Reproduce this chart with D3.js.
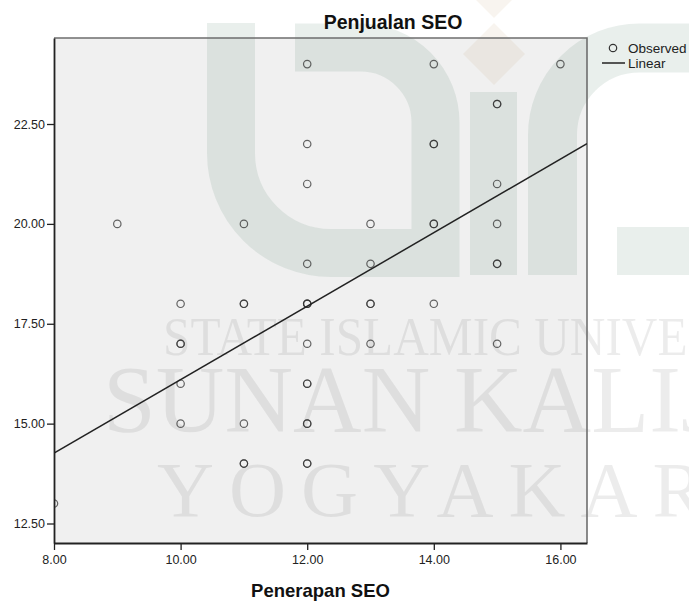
<!DOCTYPE html>
<html>
<head>
<meta charset="utf-8">
<script src="https://cdn.jsdelivr.net/npm/d3@7"></script>
<style>
  html, body { margin: 0; padding: 0; background: #fff; }
  svg { display: block; }
</style>
</head>
<body>
<svg id="chart" width="689" height="601"></svg>
<script>
// Observations: Penerapan SEO (x) against Penjualan SEO (y); repeated pairs are listed once per case
const seoApplied = [
  8,
  9,
  10, 10, 10, 10, 10,
  11, 11, 11, 11, 11, 11,
  12, 12, 12, 12, 12, 12, 12, 12, 12, 12, 12, 12, 12, 12,
  13, 13, 13, 13, 13,
  14, 14, 14, 14, 14, 14,
  15, 15, 15, 15, 15, 15, 15,
  16
];
const seoSales = [
  13,
  20,
  18, 17, 17, 16, 15,
  20, 18, 18, 15, 14, 14,
  24, 22, 21, 19, 18, 18, 18, 17, 16, 16, 15, 15, 14, 14,
  20, 19, 18, 18, 17,
  24, 22, 22, 20, 20, 18,
  23, 23, 21, 20, 19, 19, 17,
  24
];

// Linear fit (Penjualan = a + b * Penerapan)
const fitIntercept = 6.9;
const fitSlope = 0.92;

const xTicks = [8, 10, 12, 14, 16];
const yTicks = [12.5, 15, 17.5, 20, 22.5];
const xDomain = [8, 16.42];
const yDomain = [12.012, 24.653];

const chartTitle = "Penjualan SEO";
const xTitle = "Penerapan SEO";
const legendLabels = ["Observed", "Linear"];
const watermarkLines = ["STATE ISLAMIC UNIVERSITY", "SUNAN KALIJAGA", "YOGYAKARTA"];

// ---------------------------------------------------------------
const svg = d3.select("#chart");
const W = 689, H = 601;
const plot = { left: 54, right: 587, top: 38, bottom: 543 };

const x = d3.scaleLinear().domain(xDomain).range([plot.left, plot.right]);
const y = d3.scaleLinear().domain(yDomain).range([plot.bottom, plot.top]);

const sans = "'Liberation Sans', Arial, Helvetica, sans-serif";
const serif = "'Liberation Serif', 'Times New Roman', serif";

svg.append("rect").attr("width", W).attr("height", H).attr("fill", "#fff");

// Plot background
svg.append("rect")
  .attr("x", plot.left).attr("y", plot.top)
  .attr("width", plot.right - plot.left).attr("height", plot.bottom - plot.top)
  .attr("fill", "#f0f0f0");

// Page watermark (university logo and name), drawn behind the chart marks
const wm = svg.append("g").attr("class", "watermark");
const wmGreen = "#4d7d65", wmGreenOp = 0.12;

const uPath = d3.path();
uPath.moveTo(231, 23);
uPath.lineTo(231, 153);
uPath.arcTo(231, 253, 331, 253, 100);
uPath.lineTo(435.5, 253);
uPath.lineTo(435.5, 122);
uPath.arcTo(435.5, 47.5, 360.5, 47.5, 75);
uPath.lineTo(295, 47.5);
wm.append("path").attr("d", uPath.toString())
  .attr("fill", "none").attr("stroke", wmGreen).attr("stroke-opacity", wmGreenOp)
  .attr("stroke-width", 48).attr("stroke-linejoin", "miter");

wm.append("rect").attr("x", 470).attr("y", 92).attr("width", 47).attr("height", 183)
  .attr("fill", wmGreen).attr("fill-opacity", wmGreenOp);

const diamond = (cx, cy, r) => `M${cx},${cy - r}L${cx + r},${cy}L${cx},${cy + r}L${cx - r},${cy}Z`;
wm.append("path").attr("d", diamond(494, 54, 31))
  .attr("fill", "#c8a878").attr("fill-opacity", 0.12);
wm.append("path").attr("d", diamond(494, -4, 22))
  .attr("fill", "#c8a878").attr("fill-opacity", 0.12);

const nPath = d3.path();
nPath.moveTo(552.5, 275);
nPath.lineTo(552.5, 135);
nPath.arcTo(552.5, 48, 639.5, 48, 87);
nPath.lineTo(720, 48);
wm.append("path").attr("d", nPath.toString())
  .attr("fill", "none").attr("stroke", wmGreen).attr("stroke-opacity", wmGreenOp)
  .attr("stroke-width", 49);

wm.append("rect").attr("x", 617).attr("y", 227).attr("width", 100).attr("height", 48)
  .attr("fill", wmGreen).attr("fill-opacity", wmGreenOp);

const wmText = wm.append("g")
  .attr("font-family", serif).attr("fill", "#000").attr("fill-opacity", 0.075);
wmText.append("text").attr("x", 163).attr("y", 355)
  .attr("font-size", 54).attr("textLength", 667).attr("lengthAdjust", "spacingAndGlyphs")
  .text(watermarkLines[0]);
wmText.append("text").attr("x", 103).attr("y", 432)
  .attr("font-size", 95)
  .text(watermarkLines[1]);
wmText.append("text").attr("x", 157).attr("y", 516)
  .attr("font-size", 79).attr("letter-spacing", 15)
  .text(watermarkLines[2]);

// Plot frame (top and right edges)
svg.append("path")
  .attr("d", `M${plot.left},${plot.top}H${plot.right}V${plot.bottom}`)
  .attr("fill", "none").attr("stroke", "#6e6e6e").attr("stroke-width", 1.6);

// Clip marks to the plot area
svg.append("clipPath").attr("id", "plot-clip")
  .append("rect")
  .attr("x", plot.left).attr("y", plot.top)
  .attr("width", plot.right - plot.left).attr("height", plot.bottom - plot.top);

const marks = svg.append("g").attr("clip-path", "url(#plot-clip)");

// Observed cases
const cases = seoApplied.map((v, i) => ({ x: v, y: seoSales[i] }));
marks.selectAll("circle.obs")
  .data(cases)
  .join("circle")
  .attr("class", "obs")
  .attr("cx", d => x(d.x))
  .attr("cy", d => y(d.y))
  .attr("r", 3.7)
  .attr("fill", "none")
  .attr("stroke", "#333")
  .attr("stroke-opacity", 0.75)
  .attr("stroke-width", 1.2);

// Linear fit line across the full x range
const fitData = xDomain.map(v => ({ x: v, y: fitIntercept + fitSlope * v }));
marks.append("path")
  .datum(fitData)
  .attr("d", d3.line().x(d => x(d.x)).y(d => y(d.y)))
  .attr("fill", "none")
  .attr("stroke", "#222")
  .attr("stroke-width", 1.5);

// Axes
const yAxis = svg.append("g")
  .attr("transform", `translate(${plot.left},0)`)
  .call(d3.axisLeft(y).tickValues(yTicks).tickFormat(d3.format(".2f"))
    .tickSize(7).tickSizeOuter(0).tickPadding(2));
const xAxis = svg.append("g")
  .attr("transform", `translate(0,${plot.bottom})`)
  .call(d3.axisBottom(x).tickValues(xTicks).tickFormat(d3.format(".2f"))
    .tickSize(7).tickSizeOuter(0).tickPadding(5));

[xAxis, yAxis].forEach(g => {
  g.select(".domain").attr("stroke", "#222").attr("stroke-width", 1.8);
  g.selectAll(".tick line").attr("stroke", "#222").attr("stroke-width", 1.3);
  g.selectAll(".tick text")
    .attr("font-family", sans).attr("font-size", 12.5).attr("fill", "#222");
});

// Titles
svg.append("text")
  .attr("x", 393).attr("y", 29)
  .attr("text-anchor", "middle")
  .attr("font-family", sans).attr("font-size", 19.5).attr("font-weight", "bold")
  .attr("fill", "#111")
  .text(chartTitle);

svg.append("text")
  .attr("x", (plot.left + plot.right) / 2).attr("y", 597)
  .attr("text-anchor", "middle")
  .attr("font-family", sans).attr("font-size", 18.5).attr("font-weight", "bold")
  .attr("fill", "#111")
  .text(xTitle);

// Legend
const legend = svg.append("g").attr("font-family", sans).attr("font-size", 13.5).attr("fill", "#222");
legend.append("circle")
  .attr("cx", 613).attr("cy", 48).attr("r", 3.7)
  .attr("fill", "none").attr("stroke", "#333").attr("stroke-width", 1.2);
legend.append("text").attr("x", 628).attr("y", 53).text(legendLabels[0]);
legend.append("line")
  .attr("x1", 602).attr("x2", 625).attr("y1", 63).attr("y2", 63)
  .attr("stroke", "#222").attr("stroke-width", 1.5);
legend.append("text").attr("x", 628).attr("y", 68).text(legendLabels[1]);
</script>
</body>
</html>
